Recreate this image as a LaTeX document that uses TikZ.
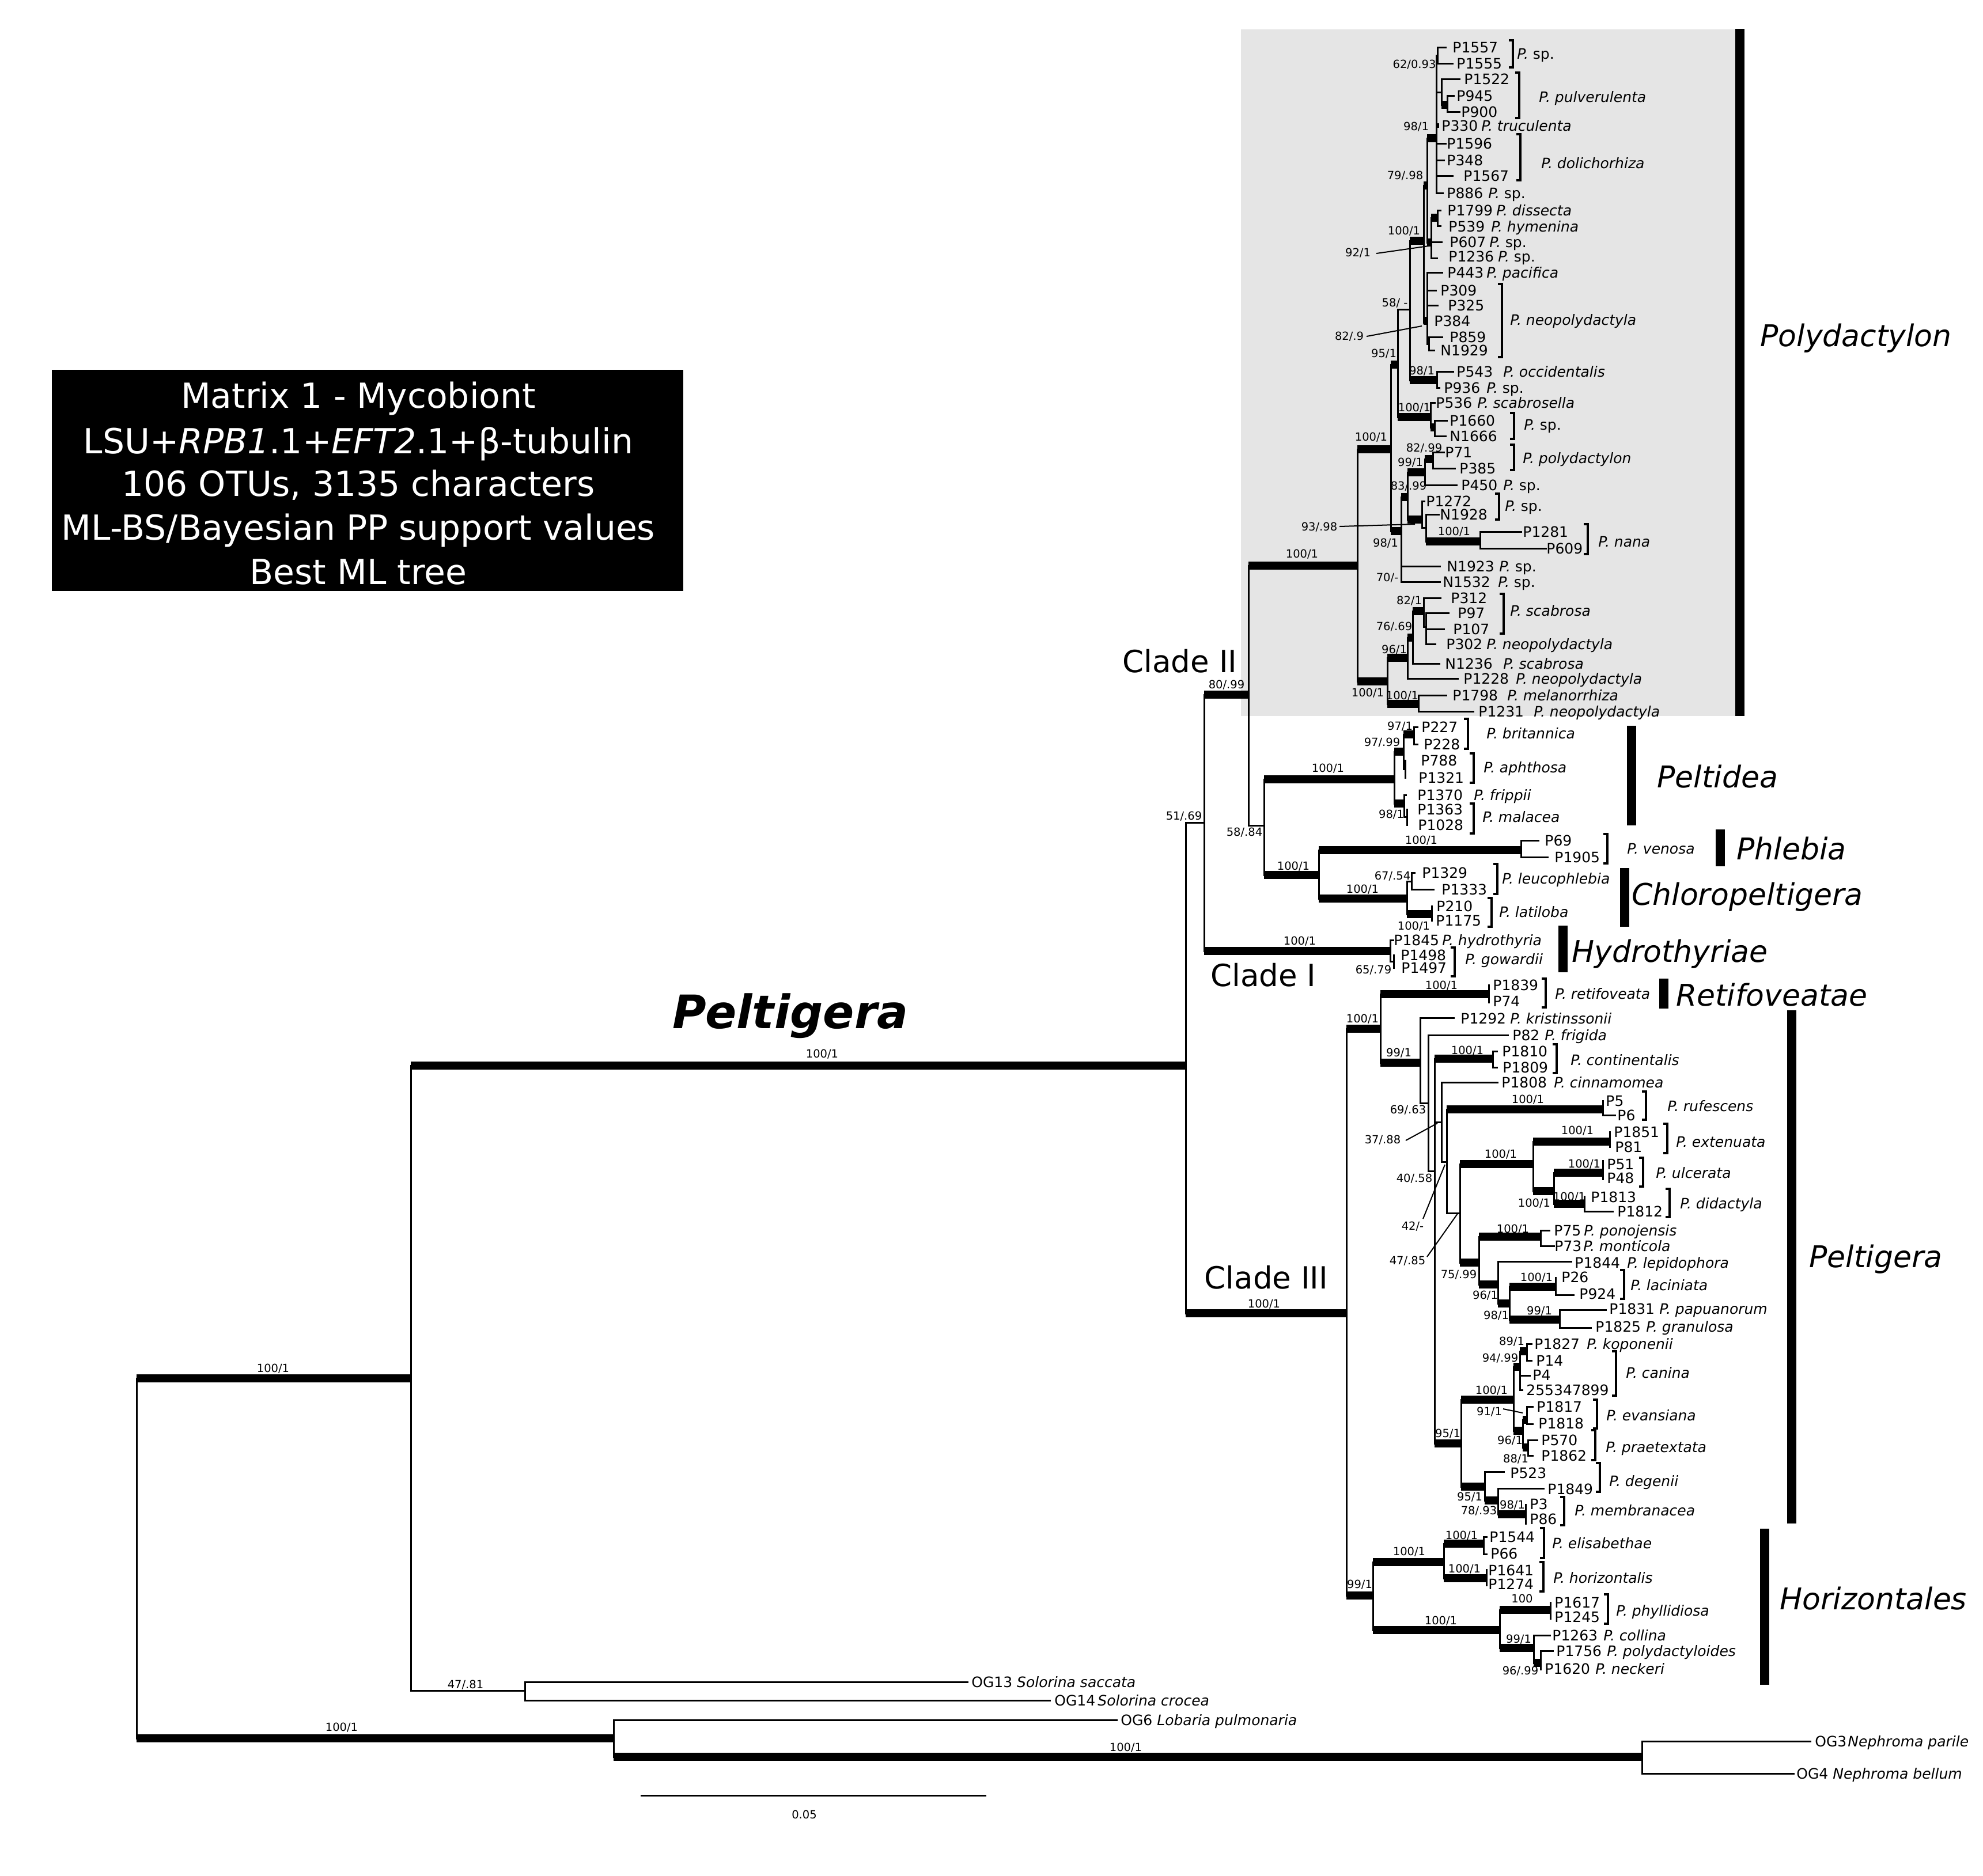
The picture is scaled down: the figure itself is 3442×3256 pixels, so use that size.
\documentclass[tikz,border=0pt]{standalone}
\usepackage{fontspec}
\setmainfont{DejaVu Sans}
\definecolor{bgray}{RGB}{229,229,229}
\newcounter{lfc}
\newcommand{\phH}[3]{\draw[br] (#1,#3) -- (#2,#3);}
\newcommand{\phT}[3]{\draw[tbr] (#1,#3) -- (#2,#3);}
\newcommand{\phV}[3]{\draw[br] (#1,#2) -- (#1,#3);}
\newcommand{\phL}[3]{\stepcounter{lfc}\node[leaf] (L\arabic{lfc}) at (#1,#2) {#3};}
\newcommand{\phS}[3]{\stepcounter{lfc}\node[sup] (S\arabic{lfc}) at (#1,#2) {#3};}
\newcommand{\phB}[3]{\draw[bkt] (#1-7,#2) -- (#1,#2) -- (#1,#3) -- (#1-7,#3);}
\tikzset{
 br/.style={line width=1.5pt, line cap=rect},
 tbr/.style={line width=7pt},
 bkt/.style={line width=2pt},
 gbar/.style={line width=8pt},
 leader/.style={line width=1pt},
 leaf/.style={anchor=west, inner sep=0pt, font=\fontsize{12.5}{14}\selectfont, text height=9.1pt, text depth=0pt},
 sup/.style={inner sep=0pt, font=\fontsize{9.75}{11}\selectfont, text height=7.1pt, text depth=0pt},
 grp/.style={anchor=west, inner sep=0pt, font=\fontsize{26}{30}\selectfont\itshape, text height=19pt, text depth=0pt},
 clade/.style={inner sep=0pt, font=\fontsize{26.5}{30}\selectfont, text height=19.3pt, text depth=0pt},
 boxt/.style={inner sep=0pt, text=white, font=\fontsize{30}{34}\selectfont, text height=21.9pt, text depth=0pt},
}
\begin{document}
\begin{tikzpicture}[x=0.5pt,y=-0.5pt]
\useasboundingbox (0,0) rectangle (3442,3256);
\fill[white] (0,0) rectangle (3442,3256);
\fill[bgray] (2154,51) rectangle (3012,1243);
% ---------- info box
\fill[black] (90,642) rectangle (1186,1026);
\node[boxt] (b1) at (622,687) {Matrix 1 - Mycobiont};
\node[boxt] (b2) at (622,766) {LSU+\textit{RPB1}.1+\textit{EFT2}.1+β-tubulin};
\node[boxt] (b3) at (622,840) {106 OTUs, 3135 characters};
\node[boxt] (b4) at (622,916) {ML-BS/Bayesian PP support values};
\node[boxt] (b5) at (622,993) {Best ML tree};
% ---------- left / outgroups
\phV{237}{2393}{3018}
\phT{237}{713}{2393}
\phT{237}{1065}{3018}
\phV{713}{1850}{2935}
\phT{713}{2058}{1850}
\phH{713}{911}{2935}
\phV{911}{2920}{2952}
\phH{911}{1679}{2920}
\phH{911}{1822}{2952}
\phV{1065}{2986}{3050}
\phH{1065}{1938}{2986}
\phT{1065}{2850}{3050}
\phV{2850}{3023}{3079}
\phH{2850}{3142}{3023}
\phH{2850}{3113}{3079}
\phH{1113}{1710}{3117}
\phS{474}{2375}{100/1}
\phS{1427}{1829}{100/1}
\phS{808}{2924}{47/.81}
\phS{593}{2998}{100/1}
\phS{1954}{3033}{100/1}
\phS{1396}{3150}{0.05}
\node[inner sep=0pt, font=\fontsize{40}{44}\selectfont\bfseries\itshape, text height=29pt, text depth=0pt] (pelt) at (1372,1756) {Peltigera};
\phL{1686}{2920}{OG13 \textit{Solorina saccata}}
\phL{1830}{2952}{OG14\,\textit{Solorina crocea}}
\phL{1945}{2986}{OG6 \textit{Lobaria pulmonaria}}
\phL{3150}{3023}{OG3}
\phL{3207}{3023}{\textit{Nephroma parile}}
\phL{3118}{3079}{OG4}
\phL{3181}{3079}{\textit{Nephroma bellum}}
% ---------- backbone of Peltigera
\phV{2058}{1428}{2280}
\phH{2058}{2090}{1428}
\phT{2058}{2337}{2280}
\phV{2090}{1206}{1651}
\phT{2090}{2167}{1206}
\phT{2090}{2413}{1651}
\phV{2167}{982}{1433}
\phT{2167}{2356}{982}
\phH{2167}{2194}{1433}
\phS{2129}{1188}{80/.99}
\phS{2055}{1416}{51/.69}
\phS{2160}{1444}{58/.84}
\phS{2260}{961}{100/1}
\phS{2256}{1633}{100/1}
\phS{2194}{2263}{100/1}
\node[clade] (c2) at (2048,1148) {Clade II};
\node[clade] (c1) at (2193,1693) {Clade I};
\node[clade] (c3) at (2198,2218) {Clade III};
% ---------- Polydactylon
\phV{2493}{96}{335}
\phH{2493}{2495}{96}
\phV{2495}{82}{110}
\phH{2495}{2509}{82}
\phH{2495}{2521}{110}
\phH{2493}{2502}{160}
\phV{2502}{137}{182}
\phH{2502}{2533}{137}
\phT{2502}{2512}{182}
\phV{2512}{166}{194}
\phH{2512}{2523}{166}
\phH{2512}{2533}{194}
\draw[line width=4pt] (2493,218) -- (2498,218);
\phH{2493}{2509}{249}
\phH{2493}{2506}{278}
\phH{2493}{2521}{305}
\phH{2493}{2504}{335}
\phV{2477}{240}{421}
\phT{2477}{2493}{240}
\phT{2477}{2484}{421}
\phV{2484}{378}{448}
\phT{2484}{2495}{378}
\phV{2495}{365}{392}
\phH{2495}{2500}{365}
\phH{2495}{2500}{392}
\phH{2484}{2502}{420}
\phH{2484}{2494}{448}
\phV{2471}{322}{560}
\phT{2471}{2477}{322}
\phT{2447}{2471}{418}
\phT{2471}{2477}{557}
\phV{2477}{473}{597}
\phH{2477}{2503}{473}
\phH{2477}{2492}{504}
\phH{2477}{2495}{530}
\phH{2477}{2480}{597}
\phV{2480}{585}{608}
\phH{2480}{2503}{585}
\phH{2480}{2489}{608}
\phV{2447}{418}{660}
\phH{2426}{2447}{537}
\phT{2447}{2494}{660}
\phV{2494}{645}{673}
\phH{2494}{2522}{645}
\phH{2494}{2498}{673}
\phV{2426}{537}{724}
\phT{2414}{2426}{633}
\phT{2426}{2483}{724}
\phV{2483}{699}{742}
\phH{2483}{2490}{699}
\phT{2483}{2490}{742}
\phV{2490}{730}{757}
\phH{2490}{2511}{730}
\phH{2490}{2509}{757}
\phV{2414}{633}{922}
\phT{2356}{2414}{780}
\phT{2414}{2432}{922}
\phV{2432}{863}{1010}
\phT{2432}{2443}{863}
\phH{2432}{2499}{983}
\phH{2432}{2499}{1010}
\phV{2443}{820}{902}
\phT{2443}{2473}{820}
\phT{2443}{2468}{902}
\phV{2473}{797}{842}
\phT{2473}{2487}{797}
\phH{2473}{2528}{842}
\phV{2487}{785}{813}
\phH{2487}{2506}{785}
\phH{2487}{2525}{813}
\phV{2468}{870}{916}
\phH{2468}{2472}{870}
\phH{2468}{2475}{916}
\phV{2475}{893}{940}
\phH{2475}{2497}{893}
\phT{2475}{2569}{940}
\phV{2569}{923}{952}
\phH{2569}{2640}{923}
\phH{2569}{2683}{952}
\phV{2356}{780}{1183}
\phT{2356}{2408}{1183}
\phV{2408}{1142}{1222}
\phT{2408}{2443}{1142}
\phT{2408}{2462}{1222}
\phV{2443}{1107}{1178}
\phT{2443}{2452}{1107}
\phH{2443}{2530}{1178}
\phV{2452}{1061}{1152}
\phT{2452}{2471}{1061}
\phH{2452}{2498}{1152}
\phV{2471}{1038}{1088}
\phH{2471}{2500}{1038}
\phH{2471}{2475}{1088}
\phV{2475}{1064}{1118}
\phH{2475}{2514}{1064}
\phH{2475}{2506}{1092}
\phH{2475}{2491}{1118}
\phV{2462}{1207}{1235}
\phH{2462}{2510}{1207}
\phH{2462}{2557}{1235}
% Polydactylon supports
\phS{2455}{111}{62/0.93}
\phS{2458}{219}{98/1}
\phS{2439}{304}{79/.98}
\phS{2437}{400}{100/1}
\phS{2357}{438}{92/1}
\draw[leader] (2389,440) -- (2480,427);
\phS{2421}{525}{58/ -}
\phS{2342}{583}{82/.9}
\draw[leader] (2372,584) -- (2468,566);
\phS{2402}{613}{95/1}
\phS{2468}{643}{98/1}
\phS{2455}{707}{100/1}
\phS{2380}{758}{100/1}
\phS{2472}{777}{82/.99}
\phS{2448}{802}{99/1}
\phS{2445}{843}{83/.99}
\phS{2290}{914}{93/.98}
\draw[leader] (2325,914) -- (2456,910);
\phS{2405}{942}{98/1}
\phS{2408}{1002}{70/-}
\phS{2524}{922}{100/1}
\phS{2446}{1042}{82/1}
\phS{2420}{1087}{76/.69}
\phS{2420}{1127}{96/1}
\phS{2434}{1207}{100/1}
\phS{2374}{1202}{100/1}
% Polydactylon leaves
\phL{2521}{82}{P1557}
\phL{2528}{110}{P1555}
\phL{2541}{137}{P1522}
\phL{2528}{166}{P945}
\phL{2536}{194}{P900}
\phL{2502}{218}{P330}
\phL{2571}{218}{\textit{P. truculenta}}
\phL{2511}{249}{P1596}
\phL{2511}{278}{P348}
\phL{2540}{305}{P1567}
\phL{2511}{335}{P886}
\phL{2583}{335}{\textit{P.} sp.}
\phL{2512}{365}{P1799}
\phL{2597}{365}{\textit{P. dissecta}}
\phL{2514}{393}{P539}
\phL{2588}{393}{\textit{P. hymenina}}
\phL{2516}{420}{P607}
\phL{2585}{420}{\textit{P.} sp.}
\phL{2514}{445}{P1236}
\phL{2600}{445}{\textit{P.} sp.}
\phL{2512}{473}{P443}
\phL{2580}{473}{\textit{P. pacifica}}
\phL{2500}{504}{P309}
\phL{2513}{530}{P325}
\phL{2489}{557}{P384}
\phL{2516}{585}{P859}
\phL{2500}{608}{N1929}
\phL{2528}{645}{P543}
\phL{2609}{645}{\textit{P. occidentalis}}
\phL{2506}{673}{P936}
\phL{2580}{673}{\textit{P.} sp.}
\phL{2492}{699}{P536}
\phL{2564}{699}{\textit{P. scabrosella}}
\phL{2516}{730}{P1660}
\phL{2516}{757}{N1666}
\phL{2508}{785}{P71}
\phL{2533}{813}{P385}
\phL{2536}{842}{P450}
\phL{2609}{842}{\textit{P.} sp.}
\phL{2475}{870}{P1272}
\phL{2499}{893}{N1928}
\phL{2643}{923}{P1281}
\phL{2684}{952}{P609}
\phL{2511}{983}{N1923}
\phL{2602}{983}{\textit{P.} sp.}
\phL{2504}{1010}{N1532}
\phL{2600}{1010}{\textit{P.} sp.}
\phL{2518}{1038}{P312}
\phL{2530}{1064}{P97}
\phL{2522}{1092}{P107}
\phL{2510}{1118}{P302}
\phL{2580}{1118}{\textit{P. neopolydactyla}}
\phL{2508}{1152}{N1236}
\phL{2609}{1152}{\textit{P. scabrosa}}
\phL{2540}{1178}{P1228}
\phL{2631}{1178}{\textit{P. neopolydactyla}}
\phL{2521}{1207}{P1798}
\phL{2616}{1207}{\textit{P. melanorrhiza}}
\phL{2566}{1235}{P1231}
\phL{2662}{1235}{\textit{P. neopolydactyla}}
\phB{2626}{70}{117}
\phL{2633}{93}{\textit{P.} sp.}
\phB{2637}{126}{205}
\phL{2671}{168}{\textit{P. pulverulenta}}
\phB{2639}{233}{313}
\phL{2675}{283}{\textit{P. dolichorhiza}}
\phB{2607}{493}{620}
\phL{2621}{555}{\textit{P. neopolydactyla}}
\phB{2628}{717}{762}
\phL{2645}{737}{\textit{P.} sp.}
\phB{2628}{772}{816}
\phL{2643}{795}{\textit{P. polydactylon}}
\phB{2602}{857}{902}
\phL{2612}{878}{\textit{P.} sp.}
\phB{2756}{910}{962}
\phL{2774}{940}{\textit{P. nana}}
\phB{2610}{1031}{1100}
\phL{2621}{1060}{\textit{P. scabrosa}}
% ---------- Peltidea
\phV{2194}{1353}{1519}
\phT{2194}{2420}{1353}
\phT{2194}{2289}{1519}
\phV{2420}{1305}{1395}
\phT{2420}{2436}{1305}
\phV{2436}{1275}{1335}
\phT{2436}{2454}{1275}
\phV{2454}{1262}{1292}
\phH{2454}{2460}{1262}
\phH{2454}{2460}{1292}
\phH{2436}{2439}{1335}
\phV{2439}{1320}{1350}
\phT{2420}{2437}{1395}
\phV{2437}{1380}{1418}
\phH{2437}{2440}{1380}
\phH{2437}{2442}{1418}
\phV{2442}{1405}{1432}
\phS{2305}{1333}{100/1}
\phS{2430}{1260}{97/1}
\phS{2399}{1288}{97/.99}
\phS{2415}{1413}{98/1}
\phL{2467}{1262}{P227}
\phL{2471}{1292}{P228}
\phL{2466}{1320}{P788}
\phL{2462}{1350}{P1321}
\phL{2460}{1380}{P1370}
\phL{2558}{1380}{\textit{P. frippii}}
\phL{2460}{1405}{P1363}
\phL{2461}{1432}{P1028}
\phB{2548}{1248}{1300}
\phL{2580}{1273}{\textit{P. britannica}}
\phB{2558}{1308}{1359}
\phL{2575}{1332}{\textit{P. aphthosa}}
\phB{2558}{1395}{1447}
\phL{2573}{1418}{\textit{P. malacea}}
% ---------- Phlebia / Chloropeltigera
\phV{2289}{1476}{1560}
\phT{2289}{2640}{1476}
\phV{2640}{1459}{1488}
\phH{2640}{2670}{1459}
\phH{2640}{2686}{1488}
\phT{2289}{2442}{1560}
\phV{2442}{1530}{1587}
\phH{2442}{2450}{1530}
\phV{2450}{1515}{1544}
\phH{2450}{2455}{1515}
\phH{2450}{2488}{1544}
\phT{2442}{2485}{1587}
\phV{2485}{1573}{1598}
\phS{2467}{1458}{100/1}
\phS{2245}{1503}{100/1}
\phS{2417}{1520}{67/.54}
\phS{2365}{1543}{100/1}
\phS{2454}{1607}{100/1}
\phL{2681}{1459}{P69}
\phL{2698}{1488}{P1905}
\phB{2790}{1448}{1499}
\phL{2824}{1473}{\textit{P. venosa}}
\phL{2468}{1515}{P1329}
\phL{2502}{1544}{P1333}
\phL{2493}{1573}{P210}
\phL{2492}{1598}{P1175}
\phB{2599}{1500}{1552}
\phL{2607}{1525}{\textit{P. leucophlebia}}
\phB{2589}{1559}{1609}
\phL{2602}{1583}{\textit{P. latiloba}}
% ---------- Hydrothyriae
\phV{2413}{1632}{1669}
\phH{2413}{2418}{1632}
\phH{2413}{2419}{1669}
\phV{2419}{1658}{1680}
\phS{2384}{1683}{65/.79}
\phL{2419}{1632}{P1845}
\phL{2503}{1632}{\textit{P. hydrothyria}}
\phL{2431}{1658}{P1498}
\phL{2432}{1680}{P1497}
\phB{2525}{1645}{1695}
\phL{2543}{1665}{\textit{P. gowardii}}
% ---------- Clade III
\phV{2337}{1786}{2770}
\phT{2337}{2396}{1786}
\phT{2337}{2383}{2770}
\phV{2396}{1726}{1845}
\phT{2396}{2584}{1726}
\phV{2584}{1710}{1740}
\phT{2396}{2465}{1845}
\phV{2465}{1767}{1915}
\phH{2465}{2523}{1767}
\phH{2465}{2479}{1915}
\phV{2479}{1797}{2033}
\phH{2479}{2617}{1797}
\phH{2479}{2490}{2033}
\phV{2490}{1838}{2506}
\phT{2490}{2591}{1838}
\phV{2591}{1825}{1853}
\phH{2591}{2598}{1825}
\phH{2591}{2598}{1853}
\phH{2490}{2502}{1948}
\phT{2490}{2536}{2506}
\phV{2502}{1879}{2017}
\phH{2502}{2599}{1879}
\phH{2502}{2511}{2017}
\phV{2511}{1926}{2106}
\phT{2511}{2782}{1926}
\phV{2782}{1911}{1936}
\phH{2782}{2803}{1936}
\phH{2511}{2534}{2106}
\phV{2534}{2021}{2192}
\phT{2534}{2661}{2021}
\phT{2534}{2567}{2192}
\phV{2661}{1982}{2068}
\phT{2661}{2794}{1982}
\phV{2794}{1965}{1991}
\phT{2661}{2697}{2068}
\phV{2697}{2036}{2090}
\phT{2697}{2782}{2036}
\phV{2782}{2015}{2047}
\phT{2697}{2750}{2090}
\phV{2750}{2077}{2103}
\phH{2750}{2799}{2103}
\phV{2567}{2147}{2230}
\phT{2567}{2674}{2147}
\phV{2674}{2136}{2163}
\phH{2674}{2689}{2136}
\phH{2674}{2697}{2163}
\phT{2567}{2600}{2230}
\phV{2600}{2190}{2263}
\phH{2600}{2727}{2190}
\phT{2600}{2620}{2263}
\phV{2620}{2234}{2291}
\phT{2620}{2700}{2234}
\phV{2700}{2218}{2248}
\phH{2700}{2731}{2248}
\phT{2620}{2707}{2291}
\phV{2707}{2274}{2305}
\phH{2707}{2787}{2274}
\phH{2707}{2761}{2305}
\phV{2536}{2430}{2581}
\phT{2536}{2627}{2430}
\phT{2536}{2577}{2581}
\phV{2627}{2373}{2484}
\phT{2627}{2638}{2373}
\phT{2627}{2643}{2484}
\phV{2638}{2346}{2413}
\phT{2638}{2650}{2346}
\phH{2638}{2655}{2388}
\phH{2638}{2642}{2413}
\phV{2650}{2333}{2362}
\phH{2650}{2658}{2333}
\phH{2650}{2658}{2362}
\phV{2643}{2465}{2513}
\phT{2643}{2650}{2465}
\phV{2650}{2442}{2472}
\phH{2650}{2660}{2442}
\phH{2650}{2660}{2472}
\phT{2643}{2652}{2513}
\phV{2652}{2500}{2527}
\phH{2652}{2668}{2500}
\phH{2652}{2660}{2527}
\phV{2577}{2555}{2605}
\phH{2577}{2610}{2555}
\phT{2577}{2600}{2605}
\phV{2600}{2584}{2629}
\phH{2600}{2679}{2584}
\phT{2600}{2648}{2629}
\phV{2648}{2612}{2645}
\phV{2383}{2712}{2830}
\phT{2383}{2506}{2712}
\phT{2383}{2603}{2830}
\phV{2506}{2680}{2740}
\phT{2506}{2575}{2680}
\phV{2575}{2668}{2698}
\phH{2575}{2580}{2668}
\phH{2575}{2580}{2698}
\phT{2506}{2580}{2740}
\phV{2580}{2725}{2752}
\phV{2603}{2795}{2861}
\phT{2603}{2691}{2795}
\phV{2691}{2782}{2810}
\phT{2603}{2662}{2861}
\phV{2662}{2839}{2887}
\phH{2662}{2690}{2839}
\phT{2662}{2674}{2887}
\phV{2674}{2866}{2898}
\phH{2674}{2695}{2866}
% Clade III supports
\phS{2365}{1768}{100/1}
\phS{2502}{1710}{100/1}
\phS{2428}{1827}{99/1}
\phS{2547}{1823}{100/1}
\phS{2444}{1926}{69/.63}
\phS{2400}{1978}{37/.88}
\draw[leader] (2440,1980) -- (2495,1950);
\phS{2652}{1908}{100/1}
\phS{2452}{2128}{42/-}
\draw[leader] (2470,2116) -- (2508,2022);
\phS{2455}{2045}{40/.58}
\phS{2605}{2003}{100/1}
\phS{2738}{1962}{100/1}
\phS{2750}{2020}{100/1}
\phS{2663}{2088}{100/1}
\phS{2724}{2077}{100/1}
\phS{2443}{2188}{47/.85}
\draw[leader] (2477,2182) -- (2530,2107);
\phS{2626}{2133}{100/1}
\phS{2532}{2212}{75/.99}
\phS{2578}{2248}{96/1}
\phS{2667}{2217}{100/1}
\phS{2597}{2283}{98/1}
\phS{2672}{2275}{99/1}
\phS{2624}{2328}{89/1}
\phS{2604}{2357}{94/.99}
\phS{2589}{2413}{100/1}
\phS{2585}{2450}{91/1}
\draw[leader] (2609,2446) -- (2643,2453);
\phS{2513}{2488}{95/1}
\phS{2621}{2500}{96/1}
\phS{2631}{2532}{88/1}
\phS{2551}{2598}{95/1}
\phS{2567}{2622}{78/.93}
\phS{2625}{2612}{98/1}
\phS{2537}{2665}{100/1}
\phS{2446}{2693}{100/1}
\phS{2542}{2723}{100/1}
\phS{2360}{2750}{99/1}
\phS{2642}{2775}{100}
\phS{2501}{2813}{100/1}
\phS{2636}{2845}{99/1}
\phS{2639}{2900}{96/.99}
% Clade III leaves
\phL{2591}{1710}{P1839}
\phL{2591}{1738}{P74}
\phB{2683}{1699}{1749}
\phL{2699}{1725}{\textit{P. retifoveata}}
\phL{2535}{1768}{P1292}
\phL{2621}{1768}{\textit{P. kristinssonii}}
\phL{2625}{1797}{P82}
\phL{2681}{1797}{\textit{P. frigida}}
\phL{2607}{1825}{P1810}
\phL{2608}{1853}{P1809}
\phB{2702}{1813}{1863}
\phL{2726}{1840}{\textit{P. continentalis}}
\phL{2606}{1879}{P1808}
\phL{2697}{1879}{\textit{P. cinnamomea}}
\phL{2787}{1911}{P5}
\phL{2807}{1936}{P6}
\phB{2857}{1895}{1944}
\phL{2894}{1920}{\textit{P. rufescens}}
\phL{2801}{1965}{P1851}
\phL{2803}{1991}{P81}
\phB{2894}{1951}{2002}
\phL{2909}{1982}{\textit{P. extenuata}}
\phL{2789}{2021}{P51}
\phL{2789}{2045}{P48}
\phB{2852}{2010}{2060}
\phL{2874}{2036}{\textit{P. ulcerata}}
\phL{2761}{2078}{P1813}
\phL{2807}{2103}{P1812}
\phB{2898}{2064}{2113}
\phL{2916}{2089}{\textit{P. didactyla}}
\phL{2697}{2136}{P75}
\phL{2749}{2136}{\textit{P. ponojensis}}
\phL{2698}{2163}{P73}
\phL{2748}{2163}{\textit{P. monticola}}
\phL{2733}{2192}{P1844}
\phL{2824}{2192}{\textit{P. lepidophora}}
\phL{2710}{2217}{P26}
\phL{2741}{2246}{P924}
\phB{2819}{2205}{2255}
\phL{2830}{2231}{\textit{P. laciniata}}
\phL{2793}{2272}{P1831}
\phL{2880}{2272}{\textit{P. papuanorum}}
\phL{2769}{2303}{P1825}
\phL{2857}{2303}{\textit{P. granulosa}}
\phL{2663}{2333}{P1827}
\phL{2754}{2333}{\textit{P. koponenii}}
\phL{2666}{2362}{P14}
\phL{2660}{2387}{P4}
\phL{2649}{2413}{255347899}
\phB{2805}{2346}{2423}
\phL{2822}{2383}{\textit{P. canina}}
\phL{2667}{2442}{P1817}
\phL{2670}{2471}{P1818}
\phB{2772}{2430}{2480}
\phL{2788}{2457}{\textit{P. evansiana}}
\phL{2675}{2500}{P570}
\phL{2675}{2527}{P1862}
\phB{2769}{2483}{2535}
\phL{2787}{2512}{\textit{P. praetextata}}
\phL{2621}{2557}{P523}
\phL{2686}{2585}{P1849}
\phB{2777}{2540}{2590}
\phL{2793}{2571}{\textit{P. degenii}}
\phL{2655}{2611}{P3}
\phL{2655}{2637}{P86}
\phB{2715}{2599}{2648}
\phL{2733}{2622}{\textit{P. membranacea}}
\phL{2585}{2668}{P1544}
\phL{2587}{2697}{P66}
\phB{2680}{2653}{2705}
\phL{2694}{2679}{\textit{P. elisabethae}}
\phL{2583}{2726}{P1641}
\phL{2583}{2750}{P1274}
\phB{2679}{2712}{2763}
\phL{2696}{2739}{\textit{P. horizontalis}}
\phL{2698}{2782}{P1617}
\phL{2698}{2807}{P1245}
\phB{2791}{2768}{2819}
\phL{2805}{2796}{\textit{P. phyllidiosa}}
\phL{2694}{2839}{P1263}
\phL{2783}{2839}{\textit{P. collina}}
\phL{2701}{2866}{P1756}
\phL{2789}{2866}{\textit{P. polydactyloides}}
\phL{2681}{2897}{P1620}
\phL{2769}{2897}{\textit{P. neckeri}}
% ---------- group bars
\draw[gbar] (3020,50) -- (3020,1243);
\node[grp] (gPoly) at (3055,582) {Polydactylon};
\draw[gbar] (2832,1260) -- (2832,1433);
\node[grp] (gPelt) at (2876,1348) {Peltidea};
\draw[gbar] (2986,1440) -- (2986,1504);
\node[grp] (gPhl) at (3014,1473) {Phlebia};
\draw[gbar] (2820,1507) -- (2820,1609);
\node[grp] (gChl) at (2832,1552) {Chloropeltigera};
\draw[gbar] (2713,1607) -- (2713,1688);
\node[grp] (gHyd) at (2728,1651) {Hydrothyriae};
\draw[gbar] (2888,1699) -- (2888,1751);
\node[grp] (gRet) at (2909,1727) {Retifoveatae};
\draw[gbar] (3110,1754) -- (3110,2645);
\node[grp] (gPg) at (3140,2181) {Peltigera};
\draw[gbar] (3063,2654) -- (3063,2925);
\node[grp] (gHor) at (3089,2775) {Horizontales};
\end{tikzpicture}
\end{document}
